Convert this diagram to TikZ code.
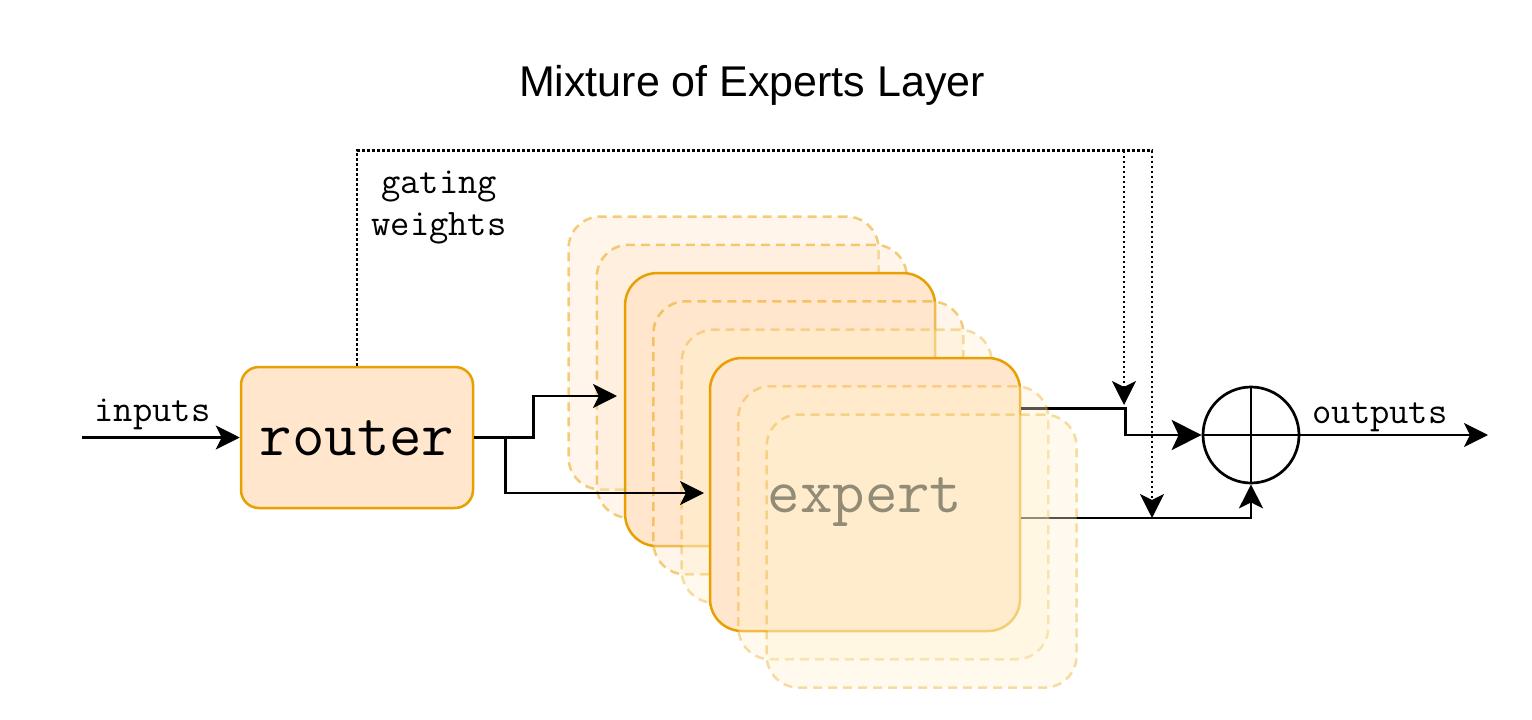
\documentclass[tikz,border=0pt]{standalone}
\usepackage{fontspec}
\setmainfont{Liberation Sans}
\usetikzlibrary{arrows.meta, calc}
\definecolor{moeline}{RGB}{230,160,0}
\definecolor{moefill}{HTML}{FFE6CC}
\definecolor{moeyellow}{HTML}{FFF2CC}

\begin{document}
\begin{tikzpicture}[x=1pt, y=-1pt,
	box/.style={draw=moeline, fill=moefill, line width=2.5pt, rounded corners=32pt,
		minimum width=310pt, minimum height=273pt, inner sep=0pt,
		text height=35pt, text depth=0pt, font=\ttfamily\fontsize{63}{66}\selectfont},
	ghost/.style={box, dash pattern=on 9pt off 6pt, draw opacity=0.5, fill opacity=0.4},
	ghosty/.style={box, dash pattern=on 9pt off 6pt, fill=moeyellow, draw opacity=0.35, fill opacity=0.35},
	lbl/.style={anchor=base, inner sep=0pt, font=\ttfamily\fontsize{37.5}{42}\selectfont},
	wire/.style={line width=2.7pt},
	arrow/.style={wire, -{Stealth[length=24pt, width=24pt, inset=6pt]}},
	bigarrow/.style={wire, -{Stealth[length=30pt, width=30pt, inset=7pt]}},
	gate/.style={arrow, dash pattern=on 2.7pt off 2.3pt}]
	\path[use as bounding box, fill=white] (0, 0) rectangle (1532, 720);

	\node (title) at (752, 96) [anchor=base, font=\fontsize{43}{50}\selectfont] {Mixture of Experts Layer};

	% stack of experts, back to front
	\node (ghosta) at (723.5, 353) [ghost] {};
	\node (ghostb) at (751.8, 381.3) [ghost] {};
	\node (expertc) at (780.1, 409.6) [box] {};
	\node (ghostd) at (808.4, 437.9) [ghost] {};
	\node (ghoste) at (836.7, 466.2) [ghosty] {};
	\node (expert) at (865, 494.5) [box] {expert};

	\node (router) at (357, 437.5) [box, minimum width=232pt, minimum height=141pt, rounded corners=18pt] {router};

	\node (sum) at (1251, 435) [circle, draw, line width=2.7pt, minimum size=96pt, inner sep=0pt] {};
	\draw[wire] (sum.north) -- (sum.south);
	\draw[wire] (sum.west) -- (sum.east);

	\coordinate (start) at (82, 437.5);
	\coordinate (end) at (1488, 435);
	\coordinate (toc) at (617, 396);
	\coordinate (tof) at (704, 493);
	\coordinate (w1) at (1124, 405);
	\coordinate (w2) at (1152, 518);

	\draw[arrow] (start) -- (router);
	\node (inputs) at (152.5, 421) [lbl] {inputs};
	\draw[arrow] (router.east) -- ++(59, 0) |- (toc);
	\draw[arrow] (router.east) -- ++(31, 0) |- (tof);

	\draw[bigarrow] ($(expert.east)+(0, -86)$) -- ++(104, 0) |- (sum.west);
	\draw[arrow] ($(expert.east)+(0, 23.5)$) -| (sum.south);
	\draw[arrow] (sum.east) -- (end);
	\node (outputs) at (1380, 423) [lbl] {outputs};

	% gating weights
	\draw[gate] (router.north) -- ++(0, -215) coordinate (top) -| (w2);
	\draw[gate] (w1 |- top) -- (w1);
	\node (gating) at (439, 193) [lbl] {gating};
	\node (weights) at (439, 235) [lbl] {weights};

	\node (ghostg) at (893.3, 522.8) [ghosty] {};
	\node (ghosth) at (921.6, 551.1) [ghosty] {};
\end{tikzpicture}
\end{document}
